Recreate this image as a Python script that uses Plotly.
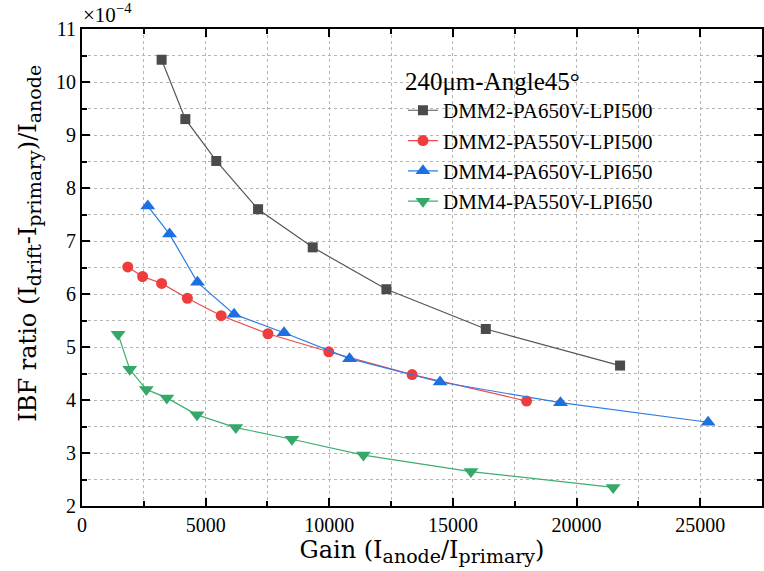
import plotly.graph_objects as go

# Gain (I_anode / I_primary) and IBF ratio (in units of 1e-4) for each configuration
gain_dmm2_650 = [3220, 4180, 5430, 7120, 9330, 12310, 16330, 21760]
ibf_dmm2_650 = [10.42, 9.30, 8.51, 7.60, 6.88, 6.09, 5.34, 4.65]

gain_dmm2_550 = [1850, 2450, 3220, 4260, 5630, 7520, 9980, 13350, 17980]
ibf_dmm2_550 = [6.51, 6.33, 6.20, 5.92, 5.59, 5.25, 4.91, 4.48, 3.98]

gain_dmm4_650 = [2660, 3540, 4670, 6150, 8170, 10820, 14480, 19350, 25320]
ibf_dmm4_650 = [7.66, 7.13, 6.22, 5.62, 5.27, 4.78, 4.34, 3.95, 3.58]

gain_dmm4_550 = [1460, 1930, 2600, 3430, 4650, 6220, 8490, 11380, 15730, 21480]
ibf_dmm4_550 = [5.24, 4.58, 4.20, 4.04, 3.72, 3.48, 3.26, 2.96, 2.65, 2.35]

series_names = ["DMM2-PA650V-LPI500", "DMM2-PA550V-LPI500",
                "DMM4-PA650V-LPI650", "DMM4-PA550V-LPI650"]
legend_title = "240μm-Angle45°"

FONT = "Liberation Serif"
TITLE_FONT = "DejaVu Serif"


def sub(s):
    # slightly larger subscripts than the plotly default
    return "<sub><span style='font-size:19px'>%s</span></sub>" % s


styles = [
    dict(symbol="square", size=10, color="#4b4b4b", line="#555555"),
    dict(symbol="circle", size=11, color="#ef3c3c", line="#ee4a4a"),
    dict(symbol="triangle-up", size=13, color="#1e6fe0", line="#2d7ce6"),
    dict(symbol="triangle-down", size=13, color="#35a869", line="#3fae70"),
]

data = [(gain_dmm2_650, ibf_dmm2_650), (gain_dmm2_550, ibf_dmm2_550),
        (gain_dmm4_650, ibf_dmm4_650), (gain_dmm4_550, ibf_dmm4_550)]

fig = go.Figure()
for (xs, ys), name, st in zip(data, series_names, styles):
    fig.add_trace(go.Scatter(
        x=xs, y=ys, name=name, mode="lines+markers",
        line=dict(color=st["line"], width=1.2),
        marker=dict(symbol=st["symbol"], size=st["size"], color=st["color"],
                    line=dict(width=0)),
    ))

axis_common = dict(
    showline=True, linecolor="black", linewidth=2, mirror="ticks",
    ticks="inside", ticklen=8, tickwidth=1.5, tickcolor="black",
    showgrid=True, gridcolor="#b5b5b5", griddash="dot", gridwidth=1,
    zeroline=False,
    tickfont=dict(family=FONT, size=20, color="black"),
)

fig.update_xaxes(
    range=[0, 27500], tick0=0, dtick=5000, tickformat="d", **axis_common,
    minor=dict(dtick=2500, ticks="inside", ticklen=5, tickcolor="black",
               showgrid=True, gridcolor="#b5b5b5", griddash="dot"),
    title=dict(text="Gain (I" + sub("anode") + "/I" + sub("primary") + ")",
               font=dict(family=TITLE_FONT, size=24, color="black"), standoff=4),
)
fig.update_yaxes(
    range=[2, 11], tick0=2, dtick=1, **axis_common,
    minor=dict(dtick=0.5, ticks="inside", ticklen=5, tickcolor="black",
               showgrid=True, gridcolor="#b5b5b5", griddash="dot"),
)

# y-axis title, placed as a rotated annotation
fig.add_annotation(
    text="IBF ratio (I" + sub("drift") + "-I" + sub("primary") + ")/I" + sub("anode"),
    xref="paper", yref="paper", x=0, y=0.55, xshift=-52,
    xanchor="center", yanchor="middle", textangle=-90, showarrow=False,
    font=dict(family=TITLE_FONT, size=24, color="black"),
)

fig.add_annotation(
    text="×10<sup>−4</sup>", xref="paper", yref="paper", x=0, y=1,
    xanchor="left", yanchor="bottom", showarrow=False, xshift=-1, yshift=0,
    font=dict(family=FONT, size=21, color="black"),
)

fig.update_layout(
    width=764, height=571,
    margin=dict(l=82, r=0, t=29, b=65),
    plot_bgcolor="white", paper_bgcolor="white",
    legend=dict(
        x=0.472, y=0.94, xanchor="left", yanchor="top",
        bgcolor="rgba(0,0,0,0)", borderwidth=0,
        title=dict(text=legend_title, font=dict(family=FONT, size=25, color="black")),
        font=dict(family=FONT, size=21, color="black"),
        tracegroupgap=0,
    ),
    showlegend=True,
)

fig.write_html("out.html")
